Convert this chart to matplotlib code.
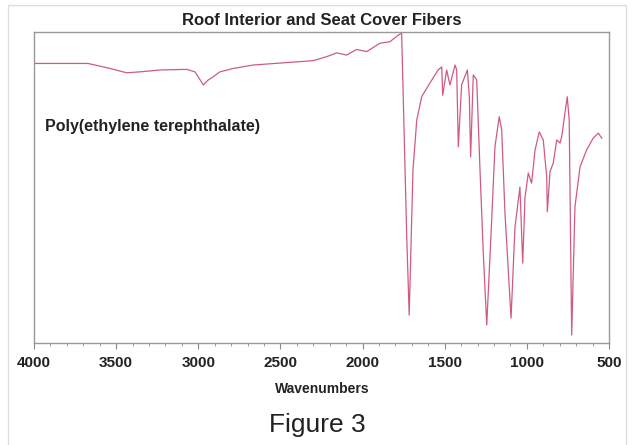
import matplotlib
matplotlib.use("Agg")
import matplotlib.pyplot as plt
from matplotlib.patches import Rectangle
from matplotlib.ticker import MultipleLocator

plt.rcParams['font.family'] = ['Liberation Sans', 'DejaVu Sans']

# spectrum (wavenumber, % transmittance-ish)
wavenumber = [4000, 3671, 3537, 3436, 3355, 3233, 3071, 3020, 2969, 2939, 2909,
              2868, 2787, 2665, 2483, 2300, 2218, 2157, 2097, 2036, 1975, 1894,
              1833, 1783, 1762, 1731, 1716, 1693, 1670, 1640, 1590, 1540, 1518,
              1512, 1488, 1468, 1437, 1427, 1417, 1397, 1362, 1350, 1342, 1326,
              1305, 1285, 1265, 1244, 1214, 1194, 1168, 1153, 1133, 1096, 1072,
              1042, 1025, 1011, 991, 971, 950, 924, 900, 879, 875, 859, 839, 818,
              798, 788, 754, 742, 727, 707, 676, 636, 596, 565, 544]
transmittance = [89.9, 89.9, 88.3, 86.9, 87.2, 87.8, 88.0, 87.2, 83.0, 84.6, 85.6,
                 87.2, 88.3, 89.4, 90.1, 90.8, 92.1, 93.3, 92.6, 94.4, 93.7, 96.4,
                 96.9, 99.0, 99.6, 34.2, 9.0, 55.6, 71.7, 79.2, 83.6, 87.8, 88.8,
                 79.7, 87.8, 83.0, 89.4, 87.8, 63.1, 83.0, 87.8, 79.2, 59.9, 86.2,
                 84.6, 55.6, 28.9, 5.8, 39.5, 63.1, 72.8, 68.5, 41.8, 8.0, 37.3,
                 50.2, 25.7, 46.9, 54.7, 51.4, 62.1, 67.9, 65.3, 53.5, 42.2, 55.1,
                 57.9, 65.3, 64.3, 66.3, 79.2, 71.7, 2.6, 43.8, 56.7, 62.1, 65.9,
                 67.5, 65.9]

xticks = [4000, 3500, 3000, 2500, 2000, 1500, 1000, 500]

fig = plt.figure(figsize=(6.35, 4.45), dpi=100)
ax = fig.add_axes([0.0535, 0.229, 0.9055, 0.699])

ax.plot(wavenumber, transmittance, color='#cf5a84', lw=0.9)

ax.set_xlim(4000, 500)
ax.set_ylim(0, 100)
ax.set_xticks(xticks)
ax.set_xticklabels([str(t) for t in xticks], fontsize=11, fontweight='bold', color='#222222')
ax.xaxis.set_minor_locator(MultipleLocator(100))
ax.set_yticks([])
ax.tick_params(axis='x', which='major', length=4, color='#888888', pad=5)
ax.tick_params(axis='x', which='minor', length=2, color='#888888')
for s in ax.spines.values():
    s.set_color('#999999')
    s.set_linewidth(1)

ax.text(0.019, 0.695, 'Poly(ethylene terephthalate)', transform=ax.transAxes,
        va='center', fontsize=11.5, fontweight='bold', color='#222222')

fig.text(0.507, 0.955, 'Roof Interior and Seat Cover Fibers', ha='center', va='center',
         fontsize=12, fontweight='bold', color='#222222')
fig.text(0.507, 0.126, 'Wavenumbers', ha='center', va='center', fontsize=10,
         fontweight='bold', color='#222222')
fig.text(0.5, 0.045, 'Figure 3', ha='center', va='center', fontsize=19, color='#222222')

fig.patches.append(Rectangle((0.0126, -0.02), 0.973, 1.009, transform=fig.transFigure,
                             fill=False, edgecolor='#dddddd', lw=1))

fig.savefig('out.png', dpi=100)
